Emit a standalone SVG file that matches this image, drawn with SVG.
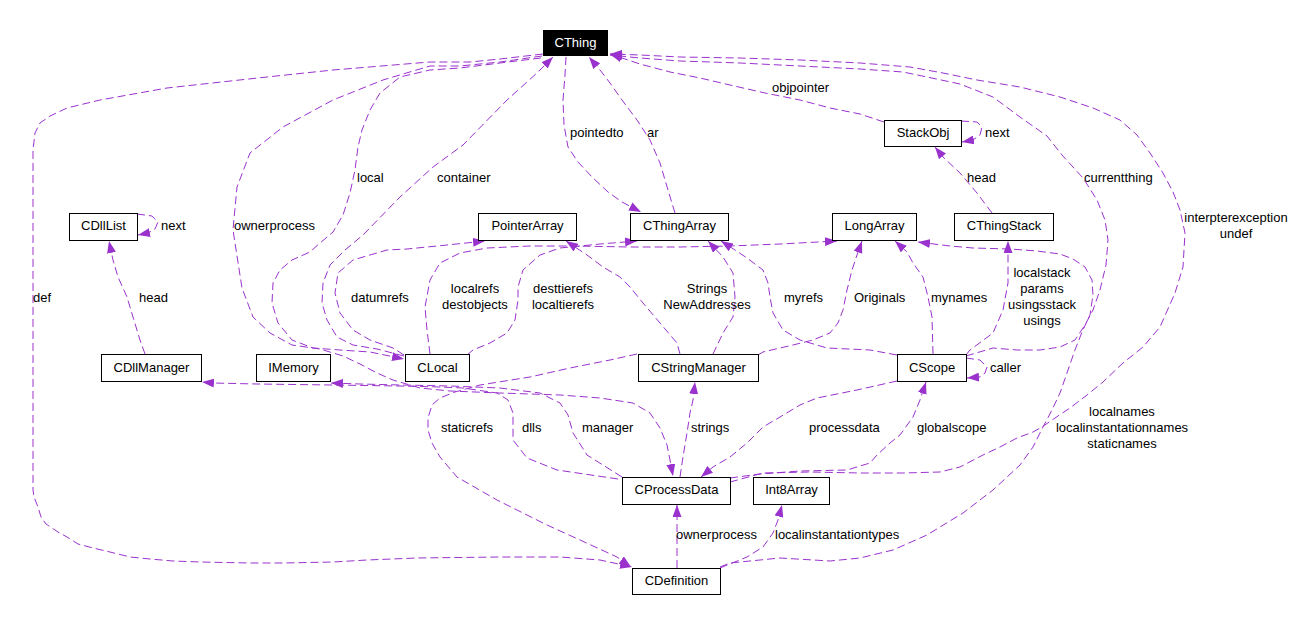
<svg xmlns="http://www.w3.org/2000/svg" width="1302" height="627" viewBox="0 0 1302 627">
<style>
text{font-family:"Liberation Sans",Arial,Helvetica,sans-serif;font-size:13px;fill:#000}
.n rect{fill:#fff;stroke:#000;stroke-width:1}
.n text{text-anchor:middle}
.root rect{fill:#000;stroke:#000}
.root text{fill:#fff}
.e path{fill:none;stroke:#9a32cd;stroke-width:1;stroke-dasharray:8,4;marker-end:url(#ah)}
.c{text-anchor:middle}
</style>
<defs>
<marker id="ah" markerUnits="userSpaceOnUse" viewBox="0 0 12 9" refX="12" refY="4.5" markerWidth="12" markerHeight="9" orient="auto">
<path d="M0,0 L12,4.5 L0,9 z" fill="#9a32cd"/>
</marker>
</defs>
<rect width="1302" height="627" fill="#fff"/>
<g id="connectors" class="e">
<path id="ar" d="M675,213 L668,190 L660,163 L650,140 L637,120 L622,100 L610,83 L600,70 L589,57"/>
<path id="pointedto" d="M566,57 L565,75 L563,100 L564,125 L568,147 L578,162 L592,177 L608,192 L622,202 L641,212"/>
<path id="objpointer" d="M884,122 L860,114 L830,108 L800,100 L765,93 L730,85 L700,78 L670,72 L640,64 L610,54"/>
<path id="currentthing" d="M966,356 L993,348 L1017,350 L1040,350 L1060,347 L1075,340 L1085,325 L1093,310 L1100,290 L1106,265 L1108,240 L1105,220 L1097,200 L1083,178 L1062,155 L1047,136 L1020,117 L993,97 L960,84 L927,77 L903,72 L860,69 L800,66 L740,63 L680,61 L640,58 L610,55"/>
<path id="interpterexception" d="M730,482 L763,473 L810,472 L860,473 L903,473 L940,472 L960,467 L983,455 L1000,447 L1017,438 L1033,432 L1042,427 L1055,418 L1070,408 L1087,395 L1103,382 L1123,363 L1143,347 L1160,327 L1175,293 L1183,267 L1185,233 L1180,210 L1173,192 L1163,173 L1150,153 L1137,135 L1120,120 L1093,108 L1060,97 L1020,87 L977,80 L943,73 L910,67 L860,63 L800,60 L740,58 L680,57 L640,55 L610,54"/>
<path id="localnames" d="M720,567 L730,563 L780,558 L830,561 L860,558 L893,550 L927,535 L963,513 L993,490 L1020,465 L1033,447 L1043,427 L1052,410 L1060,393 L1068,370 L1075,350 L1082,332 L1090,315 L1093,295 L1092,280 L1085,267 L1073,259 L1060,254 L1037,251 L1010,249 L973,248 L950,246 L918,242"/>
<path id="def" d="M543,54 L500,59 L470,62 L430,62 L333,70 L267,77 L167,88 L100,100 L67,108 L50,116 L40,123 L35,133 L33,150 L33,490 L34,497 L38,507 L41,517 L46,524 L58,532 L67,537 L78,544 L93,548 L110,552 L130,557 L150,559 L173,561 L200,562 L250,563 L283,563 L333,562 L367,560 L417,558 L500,557 L560,557 L600,560 L632,567"/>
<path id="ownerprocess1" d="M542,56 L500,62 L460,66 L430,66 L383,80 L333,100 L283,127 L250,153 L237,187 L233,230 L235,243 L242,288 L253,317 L270,333 L292,345 L320,349 L343,356 L360,364 L377,373 L393,380 L420,388 L450,391 L500,393 L560,395 L600,398 L633,403 L650,413 L660,428 L667,445 L670,460 L673,476"/>
<path id="local" d="M541,58 L500,63 L460,68 L430,70 L400,77 L380,93 L370,110 L362,130 L358,147 L355,170 L350,193 L343,215 L333,232 L320,243 L310,252 L292,260 L280,270 L273,283 L272,303 L278,323 L292,340 L313,348 L340,350 L370,352 L404,359"/>
<path id="container" d="M404,356 L377,349 L353,345 L337,337 L327,320 L322,303 L323,283 L330,265 L345,250 L363,235 L400,197 L433,167 L463,145 L507,100 L537,73 L553,57"/>
<path id="datumrefs" d="M404,355 L393,348 L370,340 L353,330 L340,313 L335,293 L338,273 L353,260 L387,250 L407,249 L447,245 L485,241"/>
<path id="localrefs" d="M430,354 L427,330 L425,307 L430,280 L440,263 L460,253 L487,248 L530,246 L573,246 L630,247 L680,247 L730,246 L780,244 L837,241"/>
<path id="desttierefs" d="M467,355 L473,350 L490,343 L507,333 L515,320 L518,300 L518,287 L523,270 L540,255 L560,248 L600,244 L637,241"/>
<path id="NewAddresses" d="M680,354 L677,343 L660,323 L643,303 L630,287 L620,277 L603,267 L587,255 L566,241"/>
<path id="Strings" d="M713,354 L723,333 L733,317 L735,297 L733,273 L723,257 L708,241"/>
<path id="myrefs" d="M897,355 L870,350 L827,348 L800,340 L783,330 L773,313 L770,297 L768,283 L763,270 L747,258 L735,250 L721,241"/>
<path id="Originals" d="M758,355 L763,352 L793,345 L813,340 L830,333 L838,323 L843,310 L847,290 L852,270 L857,255 L862,241"/>
<path id="mynames" d="M933,354 L932,317 L928,297 L923,277 L913,263 L907,252 L895,241"/>
<path id="localstack" d="M966,355 L970,350 L993,333 L1003,310 L1008,283 L1008,241"/>
<path id="headstack" d="M992,213 L977,193 L960,173 L943,157 L935,147"/>
<path id="nextstack" d="M961,121 L977,122 L982,127 L980,135 L973,140 L962,142"/>
<path id="nextdll" d="M137,214 L152,216 L158,222 L155,229 L148,233 L138,235"/>
<path id="headdll" d="M145,354 L140,340 L133,317 L127,297 L118,277 L113,260 L109,241"/>
<path id="caller" d="M966,358 L980,360 L987,367 L985,373 L980,377 L967,378"/>
<path id="globalscope" d="M730,478 L760,474 L800,471 L847,470 L870,463 L877,455 L890,443 L900,435 L913,417 L920,400 L926,382"/>
<path id="processdata" d="M897,381 L857,390 L817,398 L800,405 L780,417 L763,427 L747,443 L730,457 L713,467 L701,477"/>
<path id="strings" d="M680,477 L683,457 L687,433 L690,413 L693,400 L695,382"/>
<path id="manager" d="M622,477 L587,455 L573,433 L568,415 L560,403 L540,393 L500,388 L450,386 L400,385 L360,384 L331,383"/>
<path id="dlls" d="M618,479 L557,470 L527,458 L513,440 L513,413 L508,400 L497,393 L463,388 L440,387 L400,386 L333,385 L257,384 L213,383 L202,382"/>
<path id="staticrefs" d="M637,354 L610,360 L570,368 L530,377 L480,385 L455,392 L440,398 L432,405 L428,418 L428,430 L432,443 L440,457 L457,477 L497,500 L547,525 L580,540 L617,557 L631,567"/>
<path id="ownerprocess2" d="M677,568 L677,505"/>
<path id="localinstantationtypes" d="M720,568 L747,557 L763,547 L773,533 L778,520 L782,505"/>
</g>
<g id="CThing" class="n root"><rect x="543.5" y="30.5" width="64" height="25"/><text x="575.5" y="47">CThing</text></g>
<g id="StackObj" class="n"><rect x="884.5" y="120.5" width="77" height="26"/><text x="923" y="137">StackObj</text></g>
<g id="CDllList" class="n"><rect x="69.5" y="213.5" width="68" height="27"/><text x="103.5" y="230">CDllList</text></g>
<g id="PointerArray" class="n"><rect x="478.5" y="213.5" width="98" height="27"/><text x="527.5" y="230">PointerArray</text></g>
<g id="CThingArray" class="n"><rect x="630.5" y="213.5" width="98" height="27"/><text x="679.5" y="230">CThingArray</text></g>
<g id="LongArray" class="n"><rect x="832.5" y="213.5" width="84" height="27"/><text x="874.5" y="230">LongArray</text></g>
<g id="CThingStack" class="n"><rect x="954.5" y="213.5" width="99" height="27"/><text x="1004" y="230">CThingStack</text></g>
<g id="CDllManager" class="n"><rect x="101.5" y="354.5" width="100" height="27"/><text x="151.5" y="372">CDllManager</text></g>
<g id="IMemory" class="n"><rect x="256.5" y="354.5" width="74" height="27"/><text x="293.5" y="372">IMemory</text></g>
<g id="CLocal" class="n"><rect x="405.5" y="354.5" width="64" height="27"/><text x="437.5" y="372">CLocal</text></g>
<g id="CStringManager" class="n"><rect x="638.5" y="354.5" width="120" height="27"/><text x="698.5" y="372">CStringManager</text></g>
<g id="CScope" class="n"><rect x="897.5" y="354.5" width="69" height="27"/><text x="932" y="372">CScope</text></g>
<g id="CProcessData" class="n"><rect x="622.5" y="477.5" width="108" height="27"/><text x="676.5" y="494">CProcessData</text></g>
<g id="Int8Array" class="n"><rect x="753.5" y="477.5" width="76" height="27"/><text x="791.5" y="494">Int8Array</text></g>
<g id="CDefinition" class="n"><rect x="632.5" y="568.5" width="88" height="26"/><text x="676.5" y="585">CDefinition</text></g>
<g id="labels">
<text x="161" y="230">next</text>
<text x="234" y="230">ownerprocess</text>
<text x="357" y="182">local</text>
<text x="437" y="182">container</text>
<text x="570" y="137">pointedto</text>
<text x="647" y="137">ar</text>
<text x="772" y="92">objpointer</text>
<text x="985" y="137">next</text>
<text x="967" y="182">head</text>
<text x="1084" y="182">currentthing</text>
<text class="c" x="1236" y="222">interpterexception</text>
<text class="c" x="1236" y="238">undef</text>
<text x="33" y="302">def</text>
<text x="139" y="302">head</text>
<text x="351" y="302">datumrefs</text>
<text class="c" x="475" y="293">localrefs</text>
<text class="c" x="475" y="309">destobjects</text>
<text class="c" x="563" y="293">desttierefs</text>
<text class="c" x="563" y="309">localtierefs</text>
<text class="c" x="707" y="293">Strings</text>
<text class="c" x="707" y="309">NewAddresses</text>
<text x="784" y="302">myrefs</text>
<text x="854" y="302">Originals</text>
<text x="931" y="302">mynames</text>
<text class="c" x="1042" y="277">localstack</text>
<text class="c" x="1042" y="293">params</text>
<text class="c" x="1042" y="309">usingsstack</text>
<text class="c" x="1042" y="325">usings</text>
<text x="990" y="372">caller</text>
<text x="441" y="432">staticrefs</text>
<text x="522" y="432">dlls</text>
<text x="582" y="432">manager</text>
<text x="691" y="432">strings</text>
<text x="809" y="432">processdata</text>
<text x="917" y="432">globalscope</text>
<text class="c" x="1122" y="416">localnames</text>
<text class="c" x="1122" y="432">localinstantationnames</text>
<text class="c" x="1122" y="448">staticnames</text>
<text x="676" y="539">ownerprocess</text>
<text x="775" y="539">localinstantationtypes</text>
</g>
</svg>
